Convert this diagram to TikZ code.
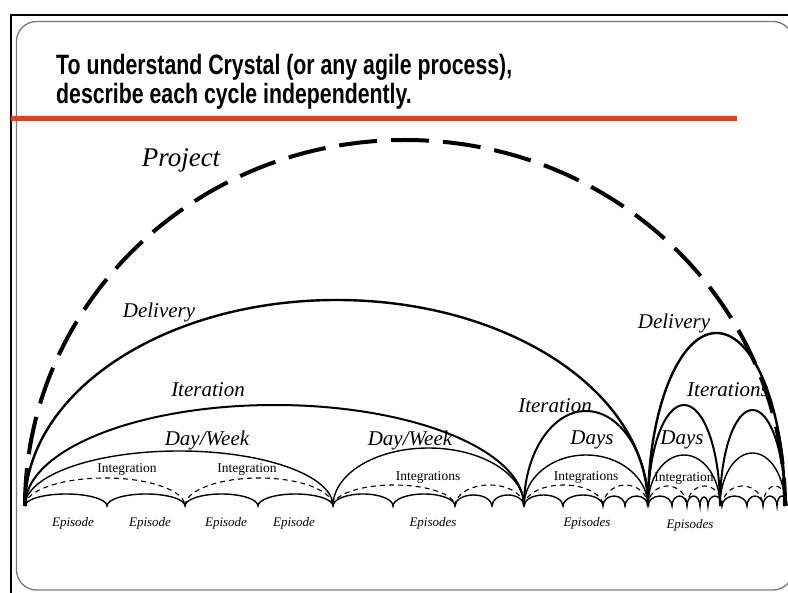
\documentclass[tikz,border=0pt]{standalone}
\usepackage{fontspec}
\setmainfont{Liberation Serif}
\newfontfamily\headfont{Liberation Sans}
\definecolor{rulered}{RGB}{240,60,20}
\definecolor{framegray}{RGB}{120,120,120}
\tikzset{
  projcycle/.style={line width=4pt, dash pattern=on 38pt off 14pt},
  delcycle/.style={line width=2.4pt},
  itcycle/.style={line width=2pt},
  daycycle/.style={line width=1.4pt},
  intcycle/.style={line width=1.1pt, dash pattern=on 5pt off 4pt},
  epcycle/.style={line width=1.4pt},
  cyclename/.style={inner sep=0pt, font=\itshape\fontsize{21pt}{21pt}\selectfont},
  intname/.style={inner sep=0pt, font=\fontsize{13.5pt}{13.5pt}\selectfont},
  epname/.style={inner sep=0pt, font=\itshape\fontsize{13pt}{13pt}\selectfont},
}

\begin{document}
\begin{tikzpicture}
\useasboundingbox (0pt,0pt) rectangle (788pt,-593pt);
\fill[white] (0pt,0pt) rectangle (788pt,-593pt);
\draw[line width=1.6pt] (11pt,-593pt) -- (11pt,-15pt) -- (788pt,-15pt);
\draw[framegray, line width=1.3pt, rounded corners=20pt] (16.5pt,-21.5pt) rectangle (793pt,-590pt);
\node[anchor=base west, inner sep=0pt, font=\headfont\bfseries\fontsize{28pt}{28pt}\selectfont] (titlea) at (56pt,-75pt) {\scalebox{0.76}[1]{To understand Crystal (or any agile process),}};
\node[anchor=base west, inner sep=0pt, font=\headfont\bfseries\fontsize{28pt}{28pt}\selectfont] (titleb) at (56pt,-104pt) {\scalebox{0.76}[1]{describe each cycle independently.}};
\draw[rulered, line width=5.5pt] (11pt,-118.5pt) -- (737pt,-118.5pt);

\draw[projcycle] (25pt,-506pt) arc[start angle=180, end angle=0, x radius=380pt, y radius=366pt];
\draw[delcycle] (25pt,-506pt) arc[start angle=180, end angle=0, x radius=311.5pt, y radius=206pt];
\draw[delcycle] (648pt,-506pt) arc[start angle=180, end angle=0, x radius=68.5pt, y radius=173pt];
\draw[itcycle] (25pt,-506pt) arc[start angle=180, end angle=0, x radius=249.5pt, y radius=101pt];
\draw[itcycle] (524pt,-506pt) arc[start angle=180, end angle=0, x radius=62pt, y radius=95pt];
\draw[itcycle] (648pt,-506pt) arc[start angle=180, end angle=0, x radius=36pt, y radius=101pt];
\draw[itcycle] (720pt,-506pt) arc[start angle=180, end angle=0, x radius=32.5pt, y radius=96pt];
\draw[daycycle] (25pt,-506pt) arc[start angle=180, end angle=0, x radius=154pt, y radius=55pt];
\draw[daycycle] (333pt,-506pt) arc[start angle=180, end angle=0, x radius=95.5pt, y radius=58pt];
\draw[daycycle] (524pt,-506pt) arc[start angle=180, end angle=0, x radius=62pt, y radius=51pt];
\draw[daycycle] (648pt,-506pt) arc[start angle=180, end angle=0, x radius=36pt, y radius=51pt];
\draw[daycycle] (720pt,-506pt) arc[start angle=180, end angle=0, x radius=32.5pt, y radius=53pt];
\draw[intcycle] (25pt,-506pt) arc[start angle=180, end angle=0, x radius=80pt, y radius=28pt];
\draw[intcycle] (185pt,-506pt) arc[start angle=180, end angle=0, x radius=74pt, y radius=28pt];
\draw[intcycle] (333pt,-506pt) arc[start angle=180, end angle=0, x radius=61pt, y radius=21pt];
\draw[intcycle] (455pt,-506pt) arc[start angle=180, end angle=0, x radius=34.5pt, y radius=21pt];
\draw[intcycle] (524pt,-506pt) arc[start angle=180, end angle=0, x radius=39.5pt, y radius=21pt];
\draw[intcycle] (603pt,-506pt) arc[start angle=180, end angle=0, x radius=22.5pt, y radius=21pt];
\draw[intcycle] (648pt,-506pt) arc[start angle=180, end angle=0, x radius=19.5pt, y radius=20pt];
\draw[intcycle] (687pt,-506pt) arc[start angle=180, end angle=0, x radius=17.5pt, y radius=20pt];
\draw[intcycle] (722pt,-506pt) arc[start angle=180, end angle=0, x radius=20.5pt, y radius=20pt];
\draw[intcycle] (763pt,-506pt) arc[start angle=180, end angle=0, x radius=12pt, y radius=20pt];
\draw[epcycle] (25pt,-506pt)
  arc[start angle=180, end angle=0, x radius=41pt, y radius=12pt]
  arc[start angle=180, end angle=0, x radius=39pt, y radius=12pt]
  arc[start angle=180, end angle=0, x radius=36.5pt, y radius=12pt]
  arc[start angle=180, end angle=0, x radius=37.5pt, y radius=12pt]
  arc[start angle=180, end angle=0, x radius=30pt, y radius=12pt]
  arc[start angle=180, end angle=0, x radius=31pt, y radius=12pt]
  arc[start angle=180, end angle=0, x radius=18.5pt, y radius=11pt]
  arc[start angle=180, end angle=0, x radius=16pt, y radius=11pt]
  arc[start angle=180, end angle=0, x radius=19.5pt, y radius=11pt]
  arc[start angle=180, end angle=0, x radius=20pt, y radius=11pt]
  arc[start angle=180, end angle=0, x radius=11pt, y radius=10pt]
  arc[start angle=180, end angle=0, x radius=11.5pt, y radius=10pt]
  arc[start angle=180, end angle=0, x radius=12pt, y radius=10pt]
  arc[start angle=180, end angle=0, x radius=7.5pt, y radius=10pt]
  arc[start angle=180, end angle=0, x radius=6.5pt, y radius=10pt]
  arc[start angle=180, end angle=0, x radius=4pt, y radius=9pt]
  arc[start angle=180, end angle=0, x radius=7pt, y radius=10pt]
  arc[start angle=180, end angle=0, x radius=12.5pt, y radius=10pt]
  arc[start angle=180, end angle=0, x radius=8pt, y radius=10pt]
  arc[start angle=180, end angle=0, x radius=7pt, y radius=10pt]
  arc[start angle=180, end angle=0, x radius=5pt, y radius=10pt];

\node[cyclename, font=\itshape\fontsize{27pt}{27pt}\selectfont] (project) at (181pt,-160pt) {Project};
\node[cyclename] (deliverya) at (159pt,-312pt) {Delivery};
\node[cyclename] (deliveryb) at (674pt,-323pt) {Delivery};
\node[cyclename] (iterationa) at (208pt,-390pt) {Iteration};
\node[cyclename] (iterationb) at (555pt,-406pt) {Iteration};
\node[cyclename] (iterations) at (728pt,-390pt) {Iterations};
\node[cyclename] (dayweeka) at (207pt,-440pt) {Day/Week};
\node[cyclename] (dayweekb) at (410pt,-440pt) {Day/Week};
\node[cyclename] (daysa) at (592pt,-440pt) {Days};
\node[cyclename] (daysb) at (682pt,-440pt) {Days};
\node[intname] (intega) at (127pt,-469pt) {Integration};
\node[intname] (integb) at (247pt,-469pt) {Integration};
\node[intname] (integc) at (428pt,-477pt) {Integrations};
\node[intname] (integd) at (586pt,-477pt) {Integrations};
\node[intname] (intege) at (684pt,-478pt) {Integration};
\node[epname] (epa) at (73pt,-523pt) {Episode};
\node[epname] (epb) at (150pt,-523pt) {Episode};
\node[epname] (epc) at (226pt,-523pt) {Episode};
\node[epname] (epd) at (294pt,-523pt) {Episode};
\node[epname] (epse) at (433pt,-523pt) {Episodes};
\node[epname] (epsf) at (587pt,-523pt) {Episodes};
\node[epname] (epsg) at (690pt,-525pt) {Episodes};
\end{tikzpicture}
\end{document}
